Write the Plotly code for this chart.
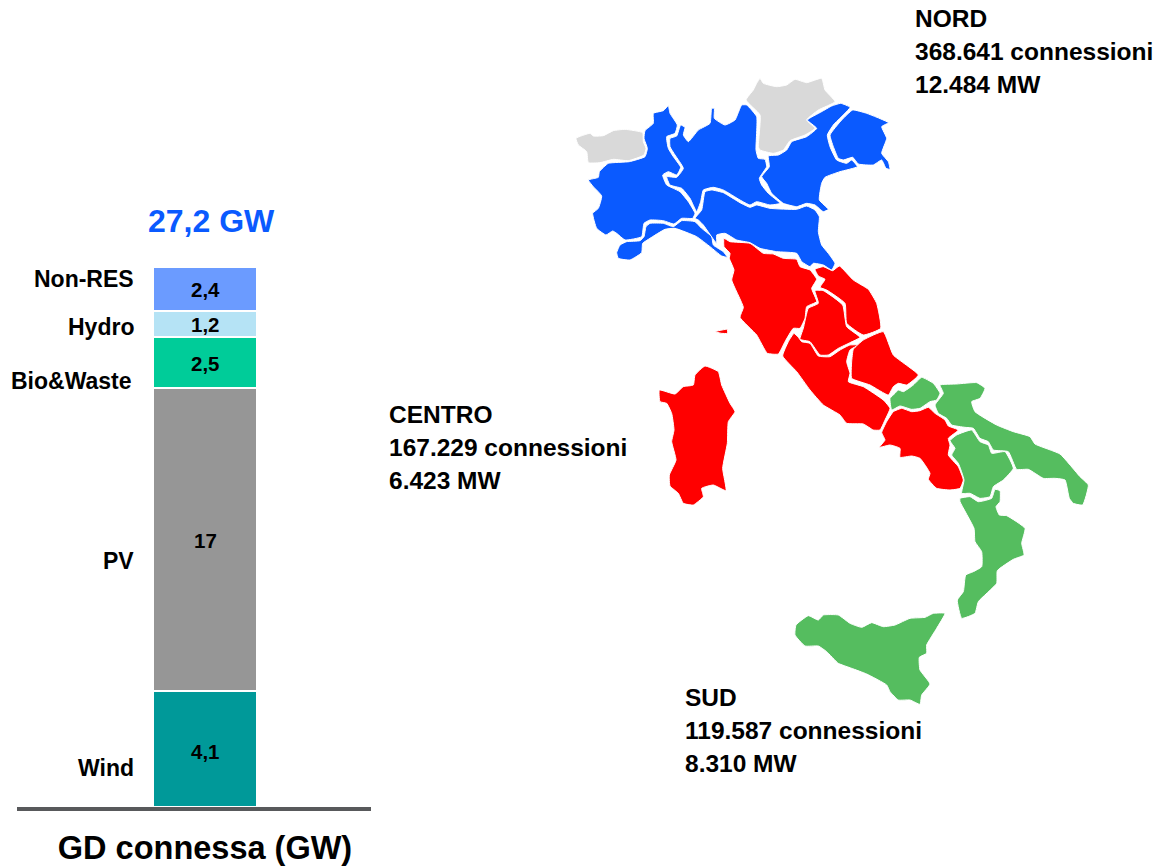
import plotly.graph_objects as go

# ---------- stacked column data ----------
categories = ["Wind", "PV", "Bio&Waste", "Hydro", "Non-RES"]
value_labels = ["4,1", "17", "2,5", "1,2", "2,4"]
drawn_values = [6.55, 17.0, 2.88, 1.47, 2.47]   # heights as drawn in the picture
colours = ["#009999", "#969696", "#00CC99", "#B5E3F5", "#6B9BFF"]
category_label_y = [768, 561, 381, 327, 279]
value_label_shift = [-3, -1, -1, -1, -1]
total_label = "27,2 GW"
column_title = "GD connessa (GW)"

# ---------- map callouts ----------
callouts = [
    (913, 18, ["NORD", "368.641 connessioni", "12.484 MW"]),
    (387, 414, ["CENTRO", "167.229 connessioni", "6.423 MW"]),
    (683, 697, ["SUD", "119.587 connessioni", "8.310 MW"]),
]

# ---------- map outlines ----------
BLUE, GREY, RED, GREEN = "#0A5AFF", "#D9D9D9", "#FF0000", "#55BD5F"
NORTH = (570, 70)
CENTRE = (650, 230)
SOUTH = (780, 370)

regions = [
 ("Valle d'Aosta", GREY, NORTH, [(18,205),(60,190),(70,198),(100,197),(130,182),(165,178),(218,188),(220,215),(228,235),(222,255),(175,272),(130,268),(90,278),(55,278),(50,245),(25,225)]),
 ("Piemonte", BLUE, NORTH, [(55,330),(85,322),(88,305),(115,280),(178,275),(225,260),(232,235),(222,205),(225,182),(250,160),(250,130),(280,122),(295,107),(300,130),(322,165),(315,190),(290,200),(295,235),(310,260),(332,292),(320,315),(295,305),(278,315),(290,345),(310,355),(330,365),(355,395),(375,430),(368,445),(335,445),(312,462),(280,452),(240,450),(222,460),(215,500),(165,510),(140,490),(128,483),(108,495),(80,475),(68,430),(85,415),(95,378),(70,350)]),
 ("Liguria", BLUE, NORTH, [(140,548),(150,525),(170,515),(210,512),(222,500),(228,470),(240,460),(280,460),(310,470),(335,452),(375,455),(395,475),(425,500),(430,525),(460,545),(472,562),(455,558),(420,530),(380,500),(315,475),(285,478),(240,505),(218,520),(215,548),(180,570),(145,565)]),
 ("Lombardia", BLUE, NORTH, [(300,205),(320,198),(332,165),(345,172),(340,195),(355,215),(385,180),(420,160),(425,115),(433,115),(433,145),(465,165),(495,150),(515,105),(530,105),(560,140),(558,240),(565,265),(585,268),(590,290),(568,325),(575,345),(595,370),(630,400),(600,405),(560,395),(540,405),(510,390),(460,360),(430,352),(400,360),(392,395),(380,425),(360,385),(335,355),(300,345),(290,320),(320,322),(340,295),(315,255),(300,230)]),
 ("Trentino-Alto Adige", GREY, NORTH, [(528,90),(550,60),(560,40),(570,25),(580,40),(620,50),(650,45),(675,28),(710,38),(755,25),(765,60),(795,95),(745,120),(710,150),(735,175),(705,195),(660,212),(640,240),(610,250),(570,240),(565,230),(570,135)]),
 ("Veneto", BLUE, NORTH, [(595,258),(625,255),(650,240),(665,215),(710,200),(740,175),(712,150),(755,125),(785,108),(812,100),(840,112),(790,165),(772,195),(780,230),(800,270),(830,280),(845,270),(862,290),(810,305),(765,322),(755,340),(748,390),(775,418),(760,425),(735,405),(710,400),(680,410),(640,400),(605,370),(590,340),(575,320),(598,290)]),
 ("Friuli-Venezia Giulia", BLUE, NORTH, [(848,120),(890,130),(955,158),(935,170),(950,205),(935,250),(955,275),(960,298),(948,295),(935,270),(910,285),(865,282),(848,262),(820,270),(805,265),(790,230),(780,195),(815,150)]),
 ("Emilia-Romagna", BLUE, NORTH, [(375,445),(395,420),(405,365),(425,360),(460,368),(510,398),(540,412),(560,405),(600,415),(680,418),(710,408),(735,420),(748,440),(745,485),(755,525),(775,550),(795,580),(785,600),(760,585),(730,580),(720,590),(695,575),(680,550),(620,545),(570,535),(540,518),(500,510),(465,490),(440,495),(440,520),(400,465),(385,450)]),
 ("Toscana", RED, CENTRE, [(222,25),(240,35),(300,40),(340,70),(370,72),(400,85),(440,88),(450,110),(480,120),(500,148),(485,175),(500,215),(470,230),(465,265),(450,295),(430,295),(405,335),(385,372),(352,370),(320,315),(270,262),(280,232),(245,150),(252,120),(238,85),(240,70),(222,50)]),
 ("Marche", RED, CENTRE, [(495,118),(520,110),(548,122),(568,108),(610,150),(655,178),(680,220),(692,295),(640,315),(590,280),(585,220),(530,180),(510,172),(525,148),(505,138)]),
 ("Umbria", RED, CENTRE, [(495,182),(520,182),(578,225),(590,290),(630,322),(600,338),(565,355),(535,375),(510,375),(480,335),(450,328),(460,295),(475,235),(505,220)]),
 ("Lazio", RED, CENTRE, [(432,310),(445,322),(455,335),(480,340),(505,378),(540,380),(570,360),(600,345),(625,345),(600,360),(590,395),(600,430),(595,455),(640,470),(700,510),(720,535),(705,570),(690,600),(670,600),(640,582),(590,580),(570,555),(520,525),(480,480),(440,425),(398,378),(415,335)]),
 ("Abruzzo", RED, CENTRE, [(610,358),(640,330),(700,305),(730,375),(805,435),(770,465),(745,460),(730,470),(715,495),(660,465),(605,445),(605,395)]),
 ("Sardegna", RED, CENTRE, [(28,480),(75,492),(100,470),(130,465),(135,435),(165,408),(205,425),(215,465),(240,520),(255,545),(235,575),(232,640),(218,715),(228,782),(190,765),(155,775),(160,800),(130,825),(100,820),(85,790),(60,768),(58,735),(78,690),(65,635),(72,600),(65,550),(50,520),(30,515)]),
 ("Elba", RED, CENTRE, [(195,305),(232,298),(232,310),(215,310)]),
 ("Molise", GREEN, SOUTH, [(330,85),(345,70),(355,60),(370,65),(400,45),(425,22),(460,40),(480,70),(470,90),(450,95),(420,115),(395,118),(360,108),(335,120)]),
 ("Campania", RED, SOUTH, [(340,125),(365,115),(395,125),(420,122),(445,112),(465,130),(495,150),(505,168),(535,180),(505,205),(510,225),(505,255),(535,290),(550,330),(540,355),(510,360),(470,355),(445,328),(450,310),(420,265),(395,258),(360,262),(360,235),(330,225),(298,232),(315,210),(305,188),(320,155)]),
 ("Puglia", GREEN, SOUTH, [(480,45),(530,42),(590,38),(615,55),(600,85),(575,95),(585,125),(650,165),(700,185),(750,200),(765,222),(840,252),(900,320),(925,345),(908,405),(880,400),(868,385),(855,330),(825,325),(790,325),(745,298),(710,298),(685,245),(640,240),(625,215),(600,205),(580,175),(555,172),(515,165),(500,145),(475,130),(465,105),(490,70)]),
 ("Basilicata", GREEN, SOUTH, [(530,195),(575,180),(600,215),(625,225),(635,250),(675,245),(700,295),(670,330),(640,350),(630,380),(600,385),(570,370),(545,370),(552,330),(535,280),(515,255),(525,235),(510,212)]),
 ("Calabria", GREEN, SOUTH, [(540,385),(570,380),(595,395),(635,385),(645,358),(660,362),(660,395),(648,410),(658,435),(680,437),(735,475),(725,520),(732,555),(700,568),(652,602),(650,640),(595,695),(585,730),(545,745),(532,690),(550,665),(557,615),(580,605),(605,590),(605,545),(585,515),(582,475),(540,395)]),
 ("Sicilia", GREEN, SOUTH, [(48,765),(85,737),(115,750),(130,735),(175,735),(210,760),(245,772),(275,758),(310,770),(345,765),(390,745),(435,742),(460,730),(495,730),(470,775),(440,825),(440,850),(418,862),(420,900),(450,942),(425,975),(420,1003),(390,990),(355,990),(330,965),(320,945),(260,912),(215,895),(175,880),(140,845),(115,828),(75,828),(45,795)]),
]

FONT = "Liberation Sans"
W, H = 1155, 866
AX_L, AX_R, BAR_L, BAR_R, BAR_TOP, BAR_BOT = 17, 371, 153, 257, 267, 807
bar_w = BAR_R - BAR_L
centre = (BAR_L + BAR_R) / 2

fig = go.Figure()

for cat, val, col in zip(categories, drawn_values, colours):
    fig.add_trace(go.Bar(
        x=[0], y=[val], width=[1], name=cat,
        marker=dict(color=col, line=dict(color="white", width=2)),
        hoverinfo="skip", xaxis="x", yaxis="y",
    ))

for name, col, (ox, oy), pts in regions:
    fig.add_trace(go.Scatter(
        x=[ox + p[0] / 3 for p in pts] + [ox + pts[0][0] / 3],
        y=[oy + p[1] / 3 for p in pts] + [oy + pts[0][1] / 3],
        mode="lines", fill="toself", fillcolor=col, name=name,
        line=dict(color="white", width=1, shape="spline", smoothing=0.4),
        hoverinfo="skip", xaxis="x2", yaxis="y2",
    ))

ann = []
def add_text(x, y, text, size, anchor="left", color="black"):
    ann.append(dict(x=x, y=y, xref="x2", yref="y2", text=f"<b>{text}</b>",
                    showarrow=False, xanchor=anchor, yanchor="middle",
                    font=dict(family=FONT, size=size, color=color)))

for x, y, lines in callouts:
    for i, line in enumerate(lines):
        add_text(x, y + 33 * i, line, 24.5)
for cat, y in zip(categories, category_label_y):
    add_text(134 if cat == "Bio&Waste" else 136, y, cat, 23, "right")
add_text(211, 221, total_label, 32, "center", BLUE)

base = 0
for val, lab, shift in zip(drawn_values, value_labels, value_label_shift):
    ann.append(dict(x=0, y=base + val / 2, xref="x", yref="y", text=f"<b>{lab}</b>",
                    showarrow=False, yshift=shift,
                    font=dict(family=FONT, size=20.5, color="black")))
    base += val

fig.update_layout(
    template="none",
    width=W, height=H, margin=dict(l=0, r=0, t=0, b=0, pad=0),
    paper_bgcolor="white", plot_bgcolor="rgba(0,0,0,0)",
    barmode="stack", showlegend=False, annotations=ann,
    xaxis=dict(domain=[AX_L / W, AX_R / W], automargin=False,
               range=[(AX_L - centre) / bar_w, (AX_R - centre) / bar_w],
               tickmode="array", tickvals=[0], ticktext=[f"<b>{column_title}</b>"],
               tickfont=dict(family=FONT, size=32.5, color="black"),
               ticks="outside", ticklen=9, tickcolor="rgba(0,0,0,0)",
               showline=True, linecolor="#58595B", linewidth=4,
               showgrid=False, zeroline=False, fixedrange=True),
    yaxis=dict(domain=[1 - BAR_BOT / H, 1 - BAR_TOP / H], automargin=False,
               range=[0, sum(drawn_values)], visible=False, fixedrange=True),
    xaxis2=dict(domain=[0, 1], range=[0, W], visible=False, anchor="y2", fixedrange=True),
    yaxis2=dict(domain=[0, 1], range=[H, 0], visible=False, anchor="x2", fixedrange=True),
)

fig.write_html("out.html", config=dict(displayModeBar=False),
               post_script="document.body.style.margin='0';")
